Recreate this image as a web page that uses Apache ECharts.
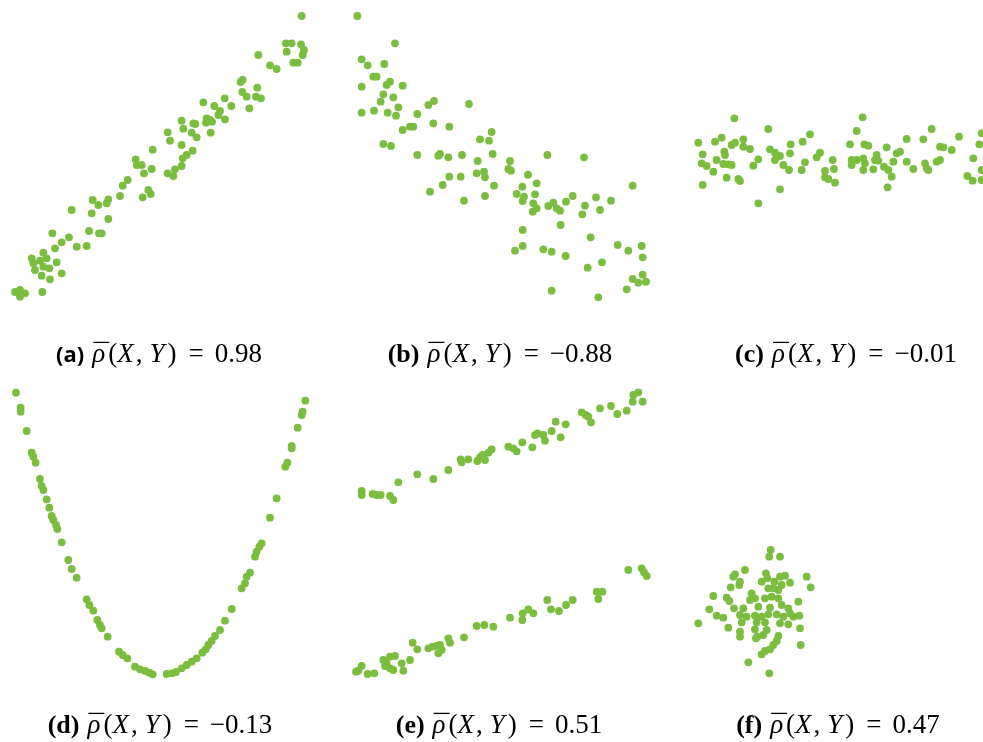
<!DOCTYPE html>
<html>
<head>
<meta charset="utf-8">
<script src="https://cdn.jsdelivr.net/npm/echarts@6/dist/echarts.min.js"></script>
<style>
  html, body { margin: 0; padding: 0; background: #fff; }
  #chart { width: 983px; height: 742px; }
</style>
</head>
<body>
<div id="chart"></div>
<script>
// point positions, one list per panel (x right, y down)
const pointsA = [
  [905,48],[858,130],[875,130],[903,133],[912,150],[860,155],[908,165],[775,165],
  [880,188],[893,188],[810,196],[830,207],[728,240],[722,246],[772,263],
  [727,276],[740,290],[768,290],[783,295],[610,307],[674,295],
  [643,318],[694,318],[748,325],[660,333],[620,355],[630,360],[618,368],[636,365],[655,345],[675,358],
  [545,362],[580,370],[586,372],[550,386],[503,397],[575,398],[632,398],
  [590,412],[510,422],[545,435],[578,452],[560,465],[548,475],[458,449],
  [407,478],[410,495],[425,495],[455,507],[545,498],[525,508],[503,520],[520,528],[432,520],
  [383,540],[368,557],[360,588],[445,570],[452,582],[428,592],
  [325,598],[320,610],[278,600],[295,615],[215,630],[275,640],[325,657],
  [157,700],[267,693],[297,700],[305,700],[207,712],[185,727],[165,745],[230,740],[260,738],
  [130,758],[95,775],[140,775],[120,782],[100,790],[130,800],[170,787],[148,805],[105,810],
  [185,820],[125,827],[150,838],[45,876],[60,870],[75,880],[60,890],[127,876]
];
const pointsB = [
  [52,48],[165,130],[65,178],[83,196],[133,192],[100,230],[110,230],
  [150,245],[140,255],[188,257],[65,260],[130,283],[160,292],[122,305],
  [282,303],[265,315],[387,312],[175,322],
  [65,338],[102,332],[143,338],[168,347],[232,342],
  [280,370],[210,380],[220,380],[188,390],[328,380],
  [455,396],[420,418],[447,422],[130,432],[153,438],
  [232,465],[300,462],[295,467],[325,472],[366,465],[458,462],[622,465],[732,472],
  [413,483],[510,483],[505,507],[513,512],[410,520],[432,515],[435,532],[564,524],[328,530],[362,530],
  [590,550],[462,557],[308,555],[547,560],[878,557],
  [270,575],[530,582],[585,583],[552,590],[435,588],[372,602],[548,603],[698,588],[768,592],[813,602],[678,605],
  [580,610],[625,618],[640,608],[650,625],[590,625],[578,635],[735,617],[727,643],[780,630],[660,632],
  [662,675],[548,690],[752,712],
  [548,738],[525,752],[610,748],[635,755],[677,768],[833,735],[865,752],[905,738],[908,772],
  [786,787],[743,803],[908,824],[878,837],[895,848],[918,845],[860,868],[635,872],[775,892]
];
const pointsC = [
  [163,55],[548,52],[265,87],[530,93],[755,87],[390,103],[905,100],
  [55,128],[105,125],[125,113],[190,118],[155,135],[165,128],[190,140],[210,147],[332,133],[368,125],
  [510,133],[553,133],[565,137],[680,117],[730,118],[837,110],[620,142],[898,133],[780,140],[790,142],
  [68,163],[133,155],[135,165],[270,148],[285,158],[330,160],[420,158],[660,155],[650,160],[815,150],
  [110,180],[65,190],[80,198],[130,192],[145,193],[155,195],[285,180],[235,178],[220,197],[300,168],
  [310,195],[410,172],[458,180],[375,187],[515,180],[530,180],[550,175],[590,165],[585,180],[595,182],
  [555,190],[640,185],[680,185],[735,190],[770,185],[780,180],[880,175],
  [100,215],[327,210],[365,210],[435,213],[462,207],[550,210],[580,208],[612,200],[625,210],[700,207],
  [740,205],[745,210],[515,195],[905,210],
  [140,233],[175,237],[180,243],[435,232],[445,237],[635,230],[862,228],[878,242],[905,240],
  [68,255],[465,248],[623,262],[300,268],[235,310]
];
const pointsD = [
  [48,38],[62,83],[62,95],[80,153],[95,218],[100,230],[107,248],[120,297],[125,318],[130,330],
  [140,358],[148,383],[155,408],[160,420],[168,435],[172,447],[185,487],[205,540],[215,567],[230,593],
  [260,658],[268,675],[280,692],[292,720],[300,735],[305,745],[323,770],[357,815],[368,825],[382,835],
  [405,860],[420,868],[435,873],[448,878],[458,883],
  [500,882],[515,880],[528,876],[545,865],[560,855],[575,845],[590,835],[607,818],[617,808],[625,795],
  [635,783],[645,768],[660,750],[675,722],[695,687],[725,625],[735,610],[740,590],[750,578],[765,530],
  [770,515],[778,500],[785,490],[810,413],[830,355],[856,260],[862,248],[875,205],[875,198],[893,143],
  [905,105],[908,95],[916,62]
];
const pointsE = [
  [65,333],[65,345],[98,342],[110,345],[122,345],[150,348],[160,360],[175,307],[232,283],[280,297],
  [325,270],[362,238],[365,247],[385,238],[412,243],[420,232],[428,225],[435,240],[445,218],[455,208],
  [505,200],[520,205],[530,214],[547,187],[577,202],[585,165],[593,160],[615,182],[610,165],[635,153],
  [647,125],[662,172],[677,133],[725,97],[737,105],[745,110],[753,127],[780,85],[813,78],[832,102],
  [860,92],[880,45],[895,37],[878,65],[908,65],
  [865,570],[905,565],[912,577],[920,588],[770,635],[787,635],[775,657],[622,660],[633,688],[657,693],
  [678,675],[698,660],[548,700],[565,688],[580,700],[547,720],[510,713],[410,738],[433,735],[460,740],
  [372,772],[325,775],[330,788],[300,795],[305,810],[295,820],[265,805],[278,800],[292,797],[218,788],
  [232,808],[130,840],[140,850],[135,858],[150,830],[165,828],[185,850],[210,840],[150,865],[160,870],
  [190,872],[65,858],[55,872],[48,875],[83,882],[103,880]
];
const pointsF = [
  [272,45],[268,65],[300,65],[195,105],[165,118],[160,125],[180,140],[178,150],[258,115],[245,140],
  [262,130],[300,125],[315,122],[283,140],[305,150],[330,143],[380,125],[392,157],[152,157],
  [100,183],[140,188],[148,198],[215,175],[225,190],[210,195],[255,190],[275,185],[295,190],[265,160],
  [280,160],[295,165],[88,223],[162,220],[190,220],[235,215],[270,218],[305,210],[325,220],[355,200],
  [330,235],[110,242],[130,248],[180,240],[200,245],[225,242],[245,245],[265,238],[290,238],[310,245],
  [340,245],[358,242],[55,265],[145,278],[185,262],[230,262],[255,262],[300,265],[325,268],[360,280],
  [180,290],[180,305],[225,283],[260,285],[232,305],[250,300],[295,303],[290,318],[280,330],[270,343],
  [228,310],[362,330],[255,348],[245,358],[205,382],[268,415]
];
const captionLetters = ['(a)', '(b)', '(c)', '(d)', '(e)', '(f)'];
const captionValues = ['0.98', '\u22120.88', '\u22120.01', '\u22120.13', '0.51', '0.47'];

const chart = echarts.init(document.getElementById('chart'));

// panel boxes [left, top, width, height]; data units are 3 per pixel
const panels = [
  { data: pointsA, box: [0, 0, 320, 310] },
  { data: pointsB, box: [340, 0, 320, 310] },
  { data: pointsC, box: [680, 100, 303, 115] },
  { data: pointsD, box: [0, 380, 320, 310] },
  { data: pointsE, box: [340, 380, 320, 310] },
  { data: pointsF, box: [680, 535, 150, 155] }
];
// caption centre x and text baseline y
const captionPos = [[159, 364], [500, 364], [846, 364], [160, 735], [499, 735], [838, 735]];

const green = '#7bbd3f';
const mathSize = 27;

// measure text widths so the caption pieces can be laid out like a formula
const ctx = document.createElement('canvas').getContext('2d');
function textWidth(str, font) {
  ctx.font = font;
  return ctx.measureText(str).width;
}

function captionElements(i) {
  const labelFont = i === 0
    ? { family: 'Open Sans', size: 22, weight: 'bold', style: 'normal', mid: 0.388 }
    : { family: 'Liberation Serif', size: 26, weight: 'bold', style: 'normal', mid: 0.3375 };
  const it = { family: 'Liberation Serif', size: mathSize, weight: 'normal', style: 'italic', mid: 0.3375 };
  const up = { family: 'Liberation Serif', size: mathSize, weight: 'normal', style: 'normal', mid: 0.3375 };
  // [text, font, gap before]
  const pieces = [
    [captionLetters[i], labelFont, 0],
    ['\u03c1', it, 8],
    ['(', up, 3],
    ['X', it, 0],
    [',', up, 2],
    ['Y', it, 7],
    [')', up, 3],
    ['=', up, 12],
    [captionValues[i], up, 11]
  ];
  let total = 0;
  const widths = pieces.map(p => {
    const f = p[1];
    const w = textWidth(p[0], f.style + ' ' + f.weight + ' ' + f.size + 'px "' + f.family + '"');
    total += p[2] + w;
    return w;
  });
  const [cx, base] = captionPos[i];
  let x = cx - total / 2;
  const els = [];
  pieces.forEach((p, k) => {
    const f = p[1];
    x += p[2];
    els.push({
      type: 'text',
      x: x,
      y: base - f.mid * f.size,
      silent: true,
      style: {
        text: p[0],
        fontFamily: f.family,
        fontSize: f.size,
        fontWeight: f.weight,
        fontStyle: f.style,
        fill: '#000',
        align: 'left',
        verticalAlign: 'middle'
      }
    });
    if (k === 1) {
      // bar over rho
      const barY = base - 0.8 * mathSize;
      els.push({
        type: 'line',
        silent: true,
        shape: { x1: x + 1, y1: barY, x2: x + widths[k] + 4, y2: barY },
        style: { stroke: '#000', lineWidth: 1.3 }
      });
    }
    x += widths[k];
  });
  return els;
}

const graphics = [];
captionLetters.forEach((c, i) => graphics.push(...captionElements(i)));

const option = {
  animation: false,
  backgroundColor: '#fff',
  grid: panels.map(p => ({
    left: p.box[0], top: p.box[1], width: p.box[2], height: p.box[3]
  })),
  xAxis: panels.map((p, i) => ({
    gridIndex: i, type: 'value', min: 0, max: p.box[2] * 3, show: false
  })),
  yAxis: panels.map((p, i) => ({
    gridIndex: i, type: 'value', min: 0, max: p.box[3] * 3, inverse: true, show: false
  })),
  series: panels.map((p, i) => ({
    type: 'scatter',
    xAxisIndex: i,
    yAxisIndex: i,
    data: p.data,
    symbolSize: 7.8,
    itemStyle: { color: green, opacity: 1 },
    emphasis: { disabled: true },
    silent: true
  })),
  graphic: graphics
};

chart.setOption(option);
</script>
</body>
</html>
